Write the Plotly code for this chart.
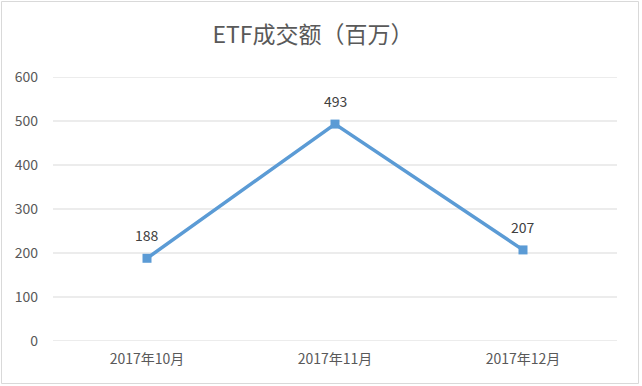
import plotly.graph_objects as go

categories = ["2017年10月", "2017年11月", "2017年12月"]
values = [188, 493, 207]
y_ticks = [0, 100, 200, 300, 400, 500, 600]
title_text = "ETF成交额（百万）"

W, H = 642, 386
ML, MR, MT, MB = 53, 25, 77, 45
pw, ph = W - ML - MR, H - MT - MB

font_family = "Noto Sans CJK SC, Open Sans, sans-serif"

fig = go.Figure()

# horizontal gridlines at the tick values
for t in y_ticks:
    fig.add_shape(type="line", xref="paper", yref="y", x0=0, x1=1, y0=t, y1=t,
                  line=dict(color="#D9D9D9", width=1), layer="below")

fig.add_trace(go.Scatter(
    x=categories, y=values, mode="lines+markers",
    line=dict(color="#5B9BD5", width=3.5),
    marker=dict(symbol="square", size=9, color="#5B9BD5"),
    cliponaxis=False, hoverinfo="skip",
))

for c, v in zip(categories, values):
    fig.add_annotation(x=c, y=v, text=str(v), showarrow=False, yshift=23,
                       font=dict(size=14, color="#404040", family=font_family))

def px_x(p):
    return (p - ML) / pw

def px_y(p):
    return (H - MB - p) / ph

fig.add_shape(type="rect", xref="paper", yref="paper",
              x0=px_x(1.5), x1=px_x(638.5), y0=px_y(383.5), y1=px_y(1.5),
              line=dict(color="#D9D9D9", width=1), layer="below")

fig.update_layout(
    width=W, height=H,
    margin=dict(l=ML, r=MR, t=MT, b=MB),
    paper_bgcolor="white", plot_bgcolor="white",
    showlegend=False,
    title=dict(text=title_text, x=313 / W, xanchor="center", y=1 - 35 / H, yanchor="middle",
               font=dict(size=23, color="#595959", family=font_family)),
    font=dict(family=font_family, color="#595959", size=14),
    xaxis=dict(showgrid=False, showline=False, zeroline=False, ticks="",
               tickfont=dict(size=14, color="#595959"), ticklabelstandoff=8,
               range=[-0.5, 2.5]),
    yaxis=dict(range=[0, 600], tickvals=y_ticks, showgrid=False,
               zeroline=False, showline=False, ticks="",
               tickfont=dict(size=14, color="#595959"), ticklabelstandoff=14),
)
fig.write_html("out.html", config={"displayModeBar": False},
               post_script="document.body.style.margin='0';")
